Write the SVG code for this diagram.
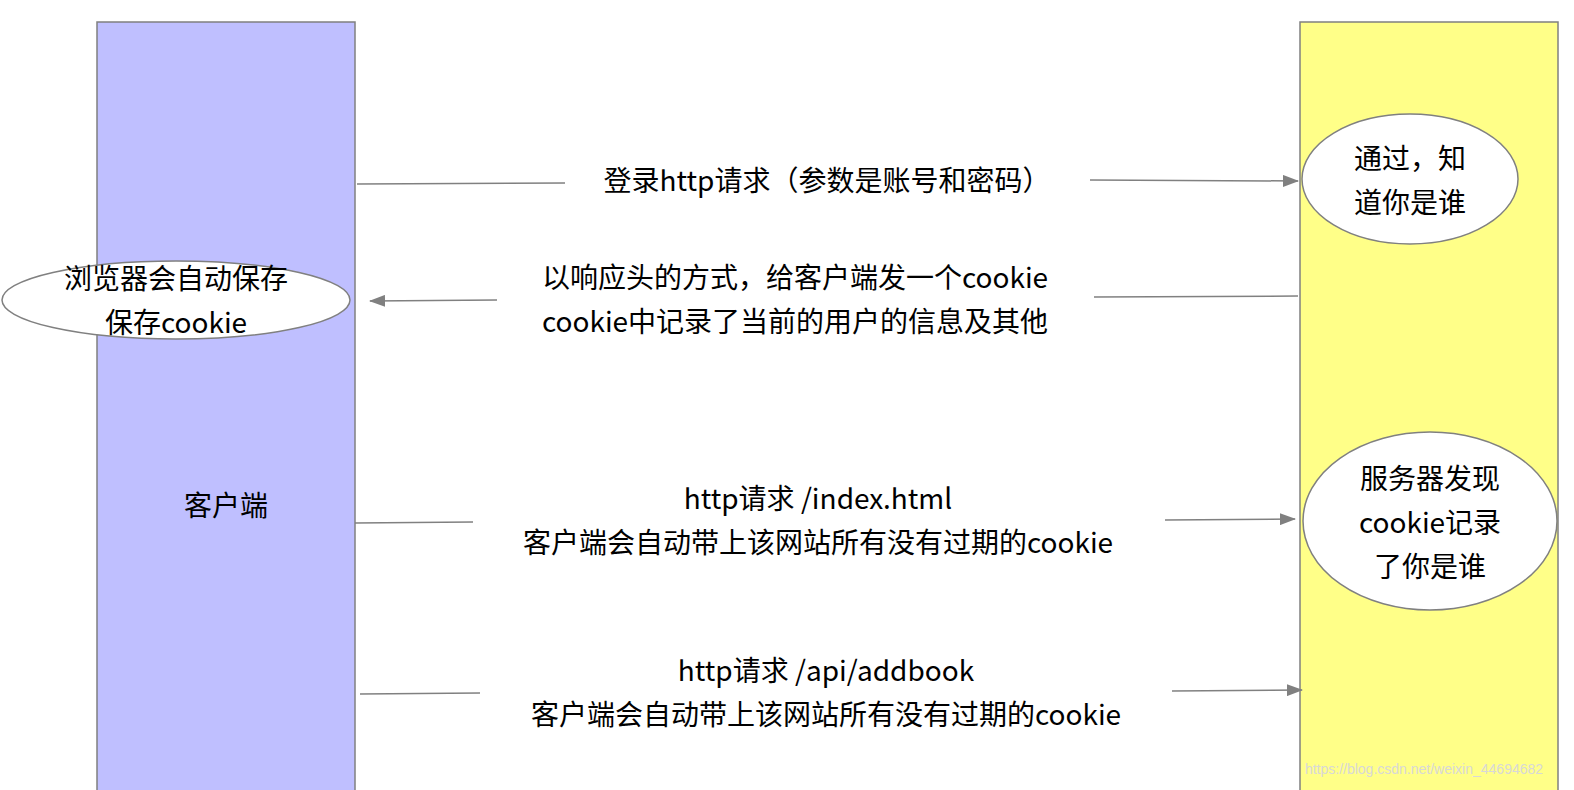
<svg xmlns="http://www.w3.org/2000/svg" width="1574" height="790" viewBox="0 0 1574 790">
<defs>
<style>
text{font-family:"Noto Sans CJK SC","Liberation Sans",sans-serif;font-size:28px;fill:#000;text-anchor:middle}
.ln{stroke:#808080;stroke-width:1.5;fill:none}
.nd{stroke:#808080;stroke-width:1.5}
</style>
<marker id="ah" viewBox="0 0 10 10" refX="9" refY="5" markerWidth="10" markerHeight="10" markerUnits="userSpaceOnUse" orient="auto"><path d="M0,0 L10,5 L0,10 Z" fill="#808080" transform="scale(1)"/></marker>
<marker id="ah2" viewBox="0 0 16 12" refX="15" refY="6" markerWidth="16" markerHeight="12" markerUnits="userSpaceOnUse" orient="auto"><path d="M0,0 L16,6 L0,12 Z" fill="#808080"/></marker>
</defs>
<rect width="1574" height="790" fill="#fff"/>
<g id="client"><rect class="nd" x="97" y="22" width="258" height="780" fill="#BFBFFF"/><text x="226" y="516">客户端</text></g>
<g id="server"><rect class="nd" x="1300" y="22" width="258" height="780" fill="#FFFF88"/></g>
<g id="save"><ellipse class="nd" cx="176" cy="300" rx="174" ry="39" fill="#fff"/><text x="176" y="289">浏览器会自动保存</text><text x="176" y="333">保存cookie</text></g>
<g id="know"><ellipse class="nd" cx="1410" cy="179" rx="108" ry="65" fill="#fff"/><text x="1410" y="169">通过，知</text><text x="1410" y="213">道你是谁</text></g>
<g id="found"><ellipse class="nd" cx="1430" cy="521" rx="127" ry="89" fill="#fff"/><text x="1430" y="489">服务器发现</text><text x="1430" y="533">cookie记录</text><text x="1430" y="577">了你是谁</text></g>
<g id="connectors">
<path class="ln" d="M357,184 L565,183"/><path class="ln" d="M1090,180 L1298,181" marker-end="url(#ah2)"/>
<path class="ln" d="M1298,296 L1094,297"/><path class="ln" d="M497,300 L370,301" marker-end="url(#ah2)"/>
<path class="ln" d="M355,523 L473,522"/><path class="ln" d="M1165,520 L1295,519" marker-end="url(#ah2)"/>
<path class="ln" d="M360,694 L480,693"/><path class="ln" d="M1172,691 L1302,690" marker-end="url(#ah2)"/>
</g>
<g id="labels">
<text x="827" y="191">登录http请求（参数是账号和密码）</text>
<text x="795" y="288">以响应头的方式，给客户端发一个cookie</text>
<text x="795" y="332">cookie中记录了当前的用户的信息及其他</text>
<text x="818" y="509">http请求 /index.html</text>
<text x="818" y="553">客户端会自动带上该网站所有没有过期的cookie</text>
<text x="826" y="681">http请求 /api/addbook</text>
<text x="826" y="725">客户端会自动带上该网站所有没有过期的cookie</text>
<text x="1424" y="774" style="font-size:14px;fill:#d8d8d8;font-family:'Liberation Sans',sans-serif">https://blog.csdn.net/weixin_44694682</text>
</g>
</svg>
